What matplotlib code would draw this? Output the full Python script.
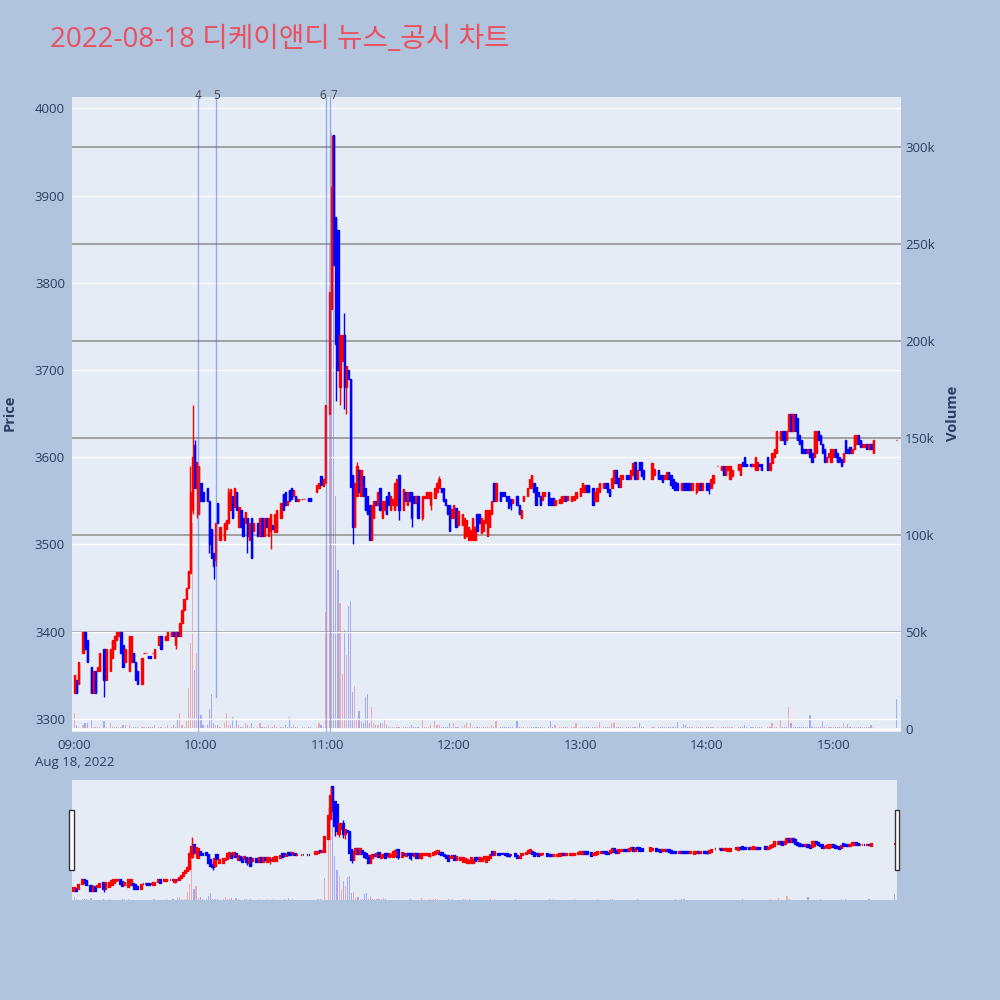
import numpy as np
import matplotlib.pyplot as plt
from matplotlib.patches import Rectangle
import matplotlib.transforms as mtrans

plt.rcParams['font.family'] = ['Open Sans', 'Noto Sans CJK KR', 'DejaVu Sans']

# minutes after 09:00, open, close, volume (thousands)
minute = [0, 1, 2, 4, 5, 6, 8, 9, 10, 11,
          12, 14, 15, 17, 18, 19, 20, 21, 22, 23,
          24, 26, 27, 28, 29, 30, 32, 33, 34, 35,
          36, 37, 38, 40, 41, 43, 44, 46, 47, 48,
          49, 50, 51, 52, 53, 54, 55, 56, 57, 58,
          59, 60, 61, 63, 64, 65, 66, 67, 68, 69,
          71, 72, 73, 74, 75, 76, 77, 78, 79, 80,
          81, 82, 83, 84, 85, 87, 88, 89, 90, 91,
          92, 93, 94, 95, 96, 98, 99, 100, 101, 102,
          103, 104, 105, 106, 108, 109, 111, 112, 115, 116,
          117, 118, 119, 121, 122, 123, 124, 125, 126, 127,
          128, 129, 130, 131, 132, 133, 134, 135, 136, 137,
          138, 139, 140, 141, 142, 143, 144, 145, 146, 147,
          148, 149, 150, 151, 152, 153, 154, 156, 157, 158,
          159, 160, 161, 162, 163, 165, 166, 167, 168, 169,
          171, 172, 173, 174, 175, 176, 177, 178, 179, 180,
          181, 182, 184, 185, 186, 187, 188, 189, 190, 191,
          192, 193, 194, 195, 196, 197, 198, 199, 200, 202,
          203, 204, 205, 206, 207, 208, 210, 211, 212, 213,
          215, 216, 217, 218, 219, 220, 221, 222, 223, 225,
          226, 227, 228, 230, 231, 232, 233, 234, 236, 237,
          238, 240, 241, 242, 243, 244, 246, 247, 248, 249,
          251, 252, 253, 254, 255, 256, 257, 258, 259, 260,
          262, 263, 264, 265, 266, 267, 268, 269, 270, 274,
          275, 277, 278, 279, 280, 281, 282, 283, 284, 285,
          286, 288, 289, 290, 291, 292, 293, 295, 296, 297,
          298, 300, 301, 302, 303, 305, 307, 308, 309, 310,
          311, 312, 315, 316, 317, 318, 319, 321, 322, 323,
          324, 325, 326, 329, 330, 331, 332, 333, 335, 336,
          337, 338, 339, 340, 341, 342, 343, 344, 345, 346,
          347, 348, 349, 350, 351, 352, 353, 354, 355, 356,
          357, 358, 359, 360, 361, 362, 363, 364, 365, 366,
          367, 368, 369, 370, 371, 372, 373, 374, 375, 376,
          377, 378, 379, 390]

opn = [3330, 3345, 3340, 3375, 3400, 3390, 3360, 3330, 3355, 3355,
       3355, 3380, 3345, 3355, 3370, 3380, 3390, 3395, 3400, 3385,
       3365, 3355, 3365, 3375, 3365, 3355, 3340, 3375, 3375, 3372,
       3372, 3375, 3370, 3385, 3395, 3390, 3390, 3395, 3400, 3385,
       3400, 3395, 3410, 3425, 3438, 3450, 3467, 3540, 3614, 3565,
       3535, 3570, 3560, 3565, 3550, 3518, 3490, 3482, 3548, 3505,
       3505, 3518, 3525, 3540, 3555, 3543, 3560, 3520, 3540, 3530,
       3525, 3530, 3505, 3530, 3516, 3525, 3510, 3530, 3510, 3530,
       3510, 3515, 3522, 3514, 3514, 3530, 3558, 3560, 3545, 3562,
       3565, 3555, 3555, 3550, 3552, 3552, 3553, 3553, 3560, 3565,
       3578, 3567, 3570, 3650, 3770, 3970, 3875, 3860, 3680, 3710,
       3740, 3680, 3700, 3690, 3580, 3520, 3555, 3585, 3555, 3578,
       3565, 3555, 3545, 3505, 3530, 3550, 3545, 3565, 3530, 3540,
       3555, 3560, 3540, 3545, 3540, 3545, 3580, 3540, 3560, 3545,
       3560, 3560, 3555, 3547, 3555, 3530, 3553, 3553, 3553, 3545,
       3553, 3560, 3565, 3565, 3565, 3552, 3545, 3545, 3530, 3530,
       3542, 3522, 3522, 3507, 3510, 3505, 3505, 3505, 3505, 3535,
       3535, 3513, 3515, 3525, 3510, 3520, 3535, 3570, 3550, 3560,
       3560, 3560, 3555, 3555, 3552, 3548, 3555, 3545, 3530, 3550,
       3555, 3565, 3565, 3570, 3566, 3560, 3556, 3551, 3555, 3560,
       3553, 3553, 3545, 3547, 3547, 3550, 3556, 3551, 3550, 3551,
       3553, 3555, 3560, 3560, 3568, 3568, 3565, 3550, 3550, 3560,
       3565, 3570, 3570, 3564, 3565, 3570, 3585, 3576, 3566, 3575,
       3580, 3580, 3575, 3580, 3595, 3575, 3595, 3595, 3585, 3575,
       3580, 3585, 3580, 3580, 3575, 3575, 3583, 3580, 3575, 3572,
       3570, 3563, 3570, 3570, 3570, 3570, 3563, 3560, 3563, 3570,
       3563, 3570, 3570, 3565, 3570, 3590, 3585, 3590, 3580, 3585,
       3575, 3578, 3585, 3580, 3595, 3600, 3592, 3592, 3590, 3585,
       3585, 3592, 3592, 3600, 3585, 3593, 3600, 3605, 3620, 3630,
       3630, 3620, 3630, 3650, 3630, 3650, 3645, 3625, 3620, 3610,
       3610, 3605, 3610, 3605, 3600, 3605, 3630, 3625, 3615, 3610,
       3595, 3600, 3595, 3600, 3610, 3605, 3600, 3598, 3595, 3620,
       3610, 3612, 3605, 3610, 3615, 3625, 3620, 3612, 3612, 3615,
       3610, 3615, 3605, 3620]

cls = [3350, 3330, 3365, 3400, 3380, 3365, 3330, 3355, 3330, 3360,
       3375, 3345, 3380, 3380, 3390, 3395, 3400, 3400, 3375, 3360,
       3380, 3395, 3395, 3365, 3345, 3340, 3370, 3375, 3375, 3370,
       3370, 3375, 3380, 3395, 3380, 3395, 3400, 3400, 3395, 3400,
       3395, 3410, 3425, 3438, 3450, 3470, 3560, 3600, 3565, 3595,
       3590, 3550, 3550, 3550, 3500, 3485, 3475, 3525, 3525, 3520,
       3525, 3528, 3560, 3564, 3530, 3565, 3540, 3543, 3520, 3510,
       3537, 3510, 3525, 3485, 3525, 3510, 3530, 3510, 3530, 3520,
       3530, 3535, 3518, 3535, 3540, 3547, 3540, 3545, 3550, 3550,
       3552, 3562, 3550, 3552, 3552, 3552, 3550, 3550, 3568, 3570,
       3568, 3575, 3660, 3790, 3910, 3820, 3730, 3700, 3740, 3740,
       3680, 3705, 3690, 3566, 3520, 3570, 3590, 3560, 3585, 3555,
       3540, 3535, 3505, 3545, 3550, 3545, 3560, 3540, 3550, 3550,
       3535, 3545, 3555, 3552, 3570, 3575, 3540, 3564, 3550, 3560,
       3550, 3530, 3548, 3555, 3530, 3555, 3556, 3560, 3560, 3560,
       3565, 3570, 3575, 3560, 3550, 3545, 3535, 3515, 3541, 3545,
       3520, 3538, 3535, 3530, 3528, 3520, 3517, 3530, 3520, 3515,
       3525, 3530, 3528, 3540, 3540, 3540, 3550, 3550, 3570, 3550,
       3555, 3555, 3550, 3542, 3545, 3552, 3545, 3535, 3540, 3555,
       3565, 3575, 3580, 3560, 3545, 3555, 3545, 3560, 3560, 3545,
       3545, 3545, 3551, 3552, 3556, 3556, 3550, 3556, 3556, 3556,
       3560, 3565, 3570, 3568, 3560, 3560, 3545, 3560, 3565, 3570,
       3570, 3565, 3560, 3555, 3576, 3585, 3570, 3566, 3580, 3580,
       3575, 3575, 3585, 3593, 3575, 3585, 3585, 3578, 3575, 3593,
       3587, 3575, 3575, 3572, 3580, 3583, 3575, 3568, 3565, 3563,
       3563, 3570, 3563, 3563, 3563, 3563, 3570, 3570, 3570, 3563,
       3570, 3563, 3563, 3575, 3580, 3590, 3590, 3580, 3590, 3590,
       3590, 3585, 3592, 3592, 3590, 3590, 3590, 3590, 3592, 3600,
       3595, 3590, 3585, 3585, 3593, 3605, 3610, 3630, 3630, 3620,
       3615, 3630, 3650, 3630, 3650, 3630, 3620, 3615, 3605, 3605,
       3605, 3610, 3600, 3595, 3630, 3630, 3620, 3615, 3605, 3595,
       3600, 3605, 3610, 3610, 3600, 3595, 3595, 3590, 3605, 3605,
       3605, 3605, 3610, 3625, 3625, 3615, 3612, 3615, 3615, 3610,
       3615, 3610, 3620, 3620]

vol_k = [8, 2, 1, 2, 3, 3, 5, 1, 1, 1,
         1, 4, 1, 3, 1, 1, 1, 1, 1, 2,
         2, 2, 1, 1, 1, 1, 1, 1, 1, 1,
         1, 1, 2, 1, 1, 1, 2, 1, 2, 1,
         5, 8, 2, 1, 4, 21, 44, 106, 30, 39,
         5, 7, 2, 2, 10, 18, 3, 2, 2, 1,
         3, 8, 2, 2, 6, 1, 5, 2, 1, 1,
         3, 2, 1, 3, 1, 1, 3, 1, 1, 1,
         2, 1, 1, 2, 1, 1, 1, 2, 1, 6,
         1, 2, 1, 1, 1, 1, 1, 1, 1, 3,
         2, 1, 60, 250, 308, 300, 120, 82, 65, 28,
         51, 38, 63, 66, 19, 22, 5, 9, 4, 3,
         16, 18, 3, 11, 3, 2, 2, 3, 3, 5,
         2, 1, 1, 1, 1, 1, 1, 1, 1, 1,
         1, 2, 1, 1, 1, 5, 1, 1, 1, 2,
         4, 2, 2, 1, 1, 1, 1, 3, 1, 3,
         1, 1, 1, 2, 3, 1, 3, 1, 1, 1,
         1, 1, 1, 1, 1, 1, 2, 1, 4, 1,
         1, 1, 1, 1, 1, 1, 4, 1, 1, 1,
         1, 1, 1, 1, 1, 1, 1, 1, 1, 1,
         4, 1, 2, 1, 1, 1, 1, 1, 1, 1,
         3, 1, 1, 1, 1, 1, 1, 1, 1, 3.5,
         1, 1, 1, 1, 3, 3, 1, 1, 1, 1,
         1, 1, 1, 1, 1, 1, 3, 1, 1, 1,
         1, 1, 1, 1, 1, 1, 1, 1, 1, 1,
         3.5, 1, 2.5, 2, 1, 1, 1, 1, 1, 1,
         1, 1, 1, 1, 1, 1, 1, 1, 1, 1,
         1, 1, 1, 1, 1, 2, 1, 1, 1, 1,
         1, 1, 1, 1, 1, 3, 1, 1, 4.5, 1,
         1, 1, 11, 3, 1, 1, 1, 1, 1, 1,
         1, 1, 7, 1, 1, 1, 1, 1, 4, 1,
         1, 1, 1, 1, 1, 1, 1, 1, 3, 1,
         2.5, 1, 1, 1, 1, 1, 1, 1, 1, 1,
         1, 2, 1, 15]

wick_hi = {55: 3590, 56: 3660, 57: 3620, 73: 3565, 122: 3970, 128: 3765,
           134: 3595, 173: 3578}
wick_lo = {14: 3325, 48: 3380, 56: 3535, 58: 3530, 64: 3490, 66: 3460,
           67: 3475, 82: 3490, 93: 3495, 124: 3665, 126: 3660, 128: 3655,
           129: 3650, 132: 3500, 154: 3528, 160: 3520, 165: 3528, 169: 3540,
           207: 3540, 295: 3558, 301: 3558}

news_time = ['09:58:35', '10:07:10', '10:59:25', '11:01:20']
news_label = ['4', '5', '6', '7']

hours = ['09:00', '10:00', '11:00', '12:00', '13:00', '14:00', '15:00']

assert len(minute) == len(opn) == len(cls) == len(vol_k)

x = np.array(minute, dtype=float)
o = np.array(opn, dtype=float)
c = np.array(cls, dtype=float)
v = np.array(vol_k, dtype=float)
hi = np.maximum(o, c)
lo = np.minimum(o, c)
for m, p in wick_hi.items():
    hi[minute.index(m)] = p
for m, p in wick_lo.items():
    lo[minute.index(m)] = p
up = c >= o
col = np.where(up, '#ff0000', '#0000ff')
# the closing-auction print shows as a blue volume bar
vup = up.copy()
vup[-1] = False


def tmin(s):
    h, mm, ss = [int(k) for k in s.split(':')]
    return (h - 9) * 60 + mm + ss / 60


news_x = [tmin(s) for s in news_time]

BG = '#e5ecf6'
TXT = '#2a3f5f'

fig = plt.figure(figsize=(10, 10), dpi=100, facecolor='#b0c4de')

# main panel
ax = fig.add_axes([0.072, 0.268, 0.829, 0.635])
axv = ax.twinx()
ax.set_zorder(axv.get_zorder() + 1)
ax.patch.set_visible(False)
axv.patch.set_visible(True)
axv.patch.set_facecolor(BG)

axv.bar(x[vup], v[vup], width=0.55, color='#ff0000', alpha=0.28, linewidth=0)
axv.bar(x[~vup], v[~vup], width=0.55, color='#0000ff', alpha=0.28, linewidth=0)
axv.set_ylim(-1.8, 325.8)
axv.set_yticks([0, 50, 100, 150, 200, 250, 300])
axv.set_yticklabels(['0', '50k', '100k', '150k', '200k', '250k', '300k'])
axv.yaxis.grid(True, color='#8c8c8c', lw=1.1)
axv.axhline(0, color='white', lw=2)
axv.tick_params(axis='y', length=0, pad=3, labelsize=9.5, labelcolor=TXT)

ax.vlines(x, lo, hi, colors=col, lw=1)
ax.bar(x, c - o, bottom=o, width=0.6, color=col, edgecolor=col, linewidth=1)
ax.set_ylim(3285, 4013)
ax.set_yticks(np.arange(3300, 4001, 100))
ax.yaxis.grid(True, color='white', lw=1)
ax.set_axisbelow(True)
ax.tick_params(axis='y', length=0, pad=5, labelsize=9.5, labelcolor=TXT)

ax.set_xlim(-1.2, 392.2)
ax.set_xticks(np.arange(0, 361, 60))
ax.set_xticklabels([hours[0] + '\nAug 18, 2022'] + hours[1:], linespacing=1.45)
ax.tick_params(axis='x', length=0, pad=5, labelsize=9.5, labelcolor=TXT)

for a in (ax, axv):
    for s in a.spines.values():
        s.set_visible(False)

trans = mtrans.blended_transform_factory(ax.transData, ax.transAxes)
for i, (nx, lab) in enumerate(zip(news_x, news_label)):
    ymin = 0.055 if lab == '5' else 0
    ax.axvline(nx, ymin=ymin, color='royalblue', alpha=0.5, lw=1)
    # labels of lines that sit very close together are pushed apart
    ha = 'center'
    if i + 1 < len(news_x) and news_x[i + 1] - nx < 3:
        ha = 'right'
    elif i > 0 and nx - news_x[i - 1] < 3:
        ha = 'left'
    ax.text(nx, 1.002, lab, transform=trans, ha=ha, va='center',
            fontsize=8.5, color='#444444')

fig.text(0.010, 0.587, 'Price', rotation=90, ha='center', va='center',
         fontsize=10.5, fontweight='bold', color=TXT)
fig.text(0.953, 0.587, 'Volume', rotation=90, ha='center', va='center',
         fontsize=10.5, fontweight='bold', color=TXT)

fig.text(0.05, 0.960, '2022-08-18 디케이앤디 뉴스_공시 차트', ha='left',
         va='center', fontsize=20, color='#eb5060')

# range slider
rs = fig.add_axes([0.072, 0.100, 0.825, 0.120])
rsv = rs.twinx()
rs.set_zorder(rsv.get_zorder() + 1)
rs.patch.set_visible(False)
rsv.patch.set_visible(True)
rsv.patch.set_facecolor(BG)
rsv.bar(x[vup], v[vup], width=0.55, color='#ff0000', alpha=0.28, linewidth=0)
rsv.bar(x[~vup], v[~vup], width=0.55, color='#0000ff', alpha=0.28, linewidth=0)
rsv.set_ylim(0, 325.8)
rs.vlines(x, lo, hi, colors=col, lw=1)
rs.bar(x, c - o, bottom=o, width=0.6, color=col, edgecolor=col, linewidth=1.6)
rs.set_ylim(3275, 4011)
rs.set_xlim(-1.0, 391.3)
for a in (rs, rsv):
    a.set_xticks([])
    a.set_yticks([])
    for s in a.spines.values():
        s.set_visible(False)

for hx in (0.0693, 0.8950):
    fig.patches.append(Rectangle((hx, 0.130), 0.0042, 0.060, transform=fig.transFigure,
                                 facecolor='white', edgecolor='#333333', lw=1))

fig.savefig('out.png', dpi=100, facecolor=fig.get_facecolor())
